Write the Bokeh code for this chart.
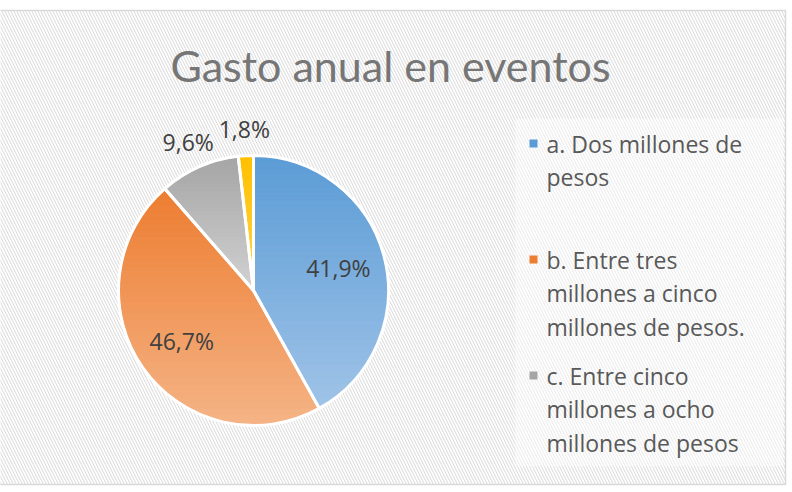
import textwrap
import numpy as np
from bokeh.plotting import figure
from bokeh.models import Range1d
from bokeh.core.properties import value
from bokeh.embed import file_html
from bokeh.resources import INLINE

# ---- data ----
title = "Gasto anual en eventos"
categories = [
    "a. Dos millones de pesos",
    "b. Entre tres millones a cinco millones de pesos.",
    "c. Entre cinco millones a ocho millones de pesos",
    "d. Más de ocho millones de pesos",
]
shares = [41.9, 46.7, 9.6, 1.8]
labels = ["41,9%", "46,7%", "9,6%", "1,8%"]
colors_top = ["#5B9BD5", "#ED7D31", "#A5A5A5", "#FFC000"]
colors_bottom = ["#A0C4E8", "#F5B486", "#D2D2D2", "#FFD54F"]

W, H = 792, 492
FONT = "Open Sans"
TFONT = "Lato"

p = figure(width=W, height=H, output_backend="svg", toolbar_location=None,
           x_range=Range1d(0, W), y_range=Range1d(0, H), min_border=0)
p.axis.visible = False
p.grid.visible = False
p.outline_line_color = None
p.background_fill_color = "white"
p.border_fill_color = "white"

# chart area with hatched background
top, bottom, left, right = H - 10, H - 484, -2, 785
p.quad(left=[left], right=[right], top=[top], bottom=[bottom],
       fill_color="white", line_color="#D9D9D9", line_width=1.5,
       hatch_pattern="\\", hatch_color="#DEDEDE", hatch_scale=6, hatch_weight=1.1)

# legend backdrop
p.quad(left=[515], right=[783], top=[H - 118], bottom=[H - 466],
       fill_color="white", fill_alpha=0.45, line_color=None)

# ---- pie ----
cx, cy, R = 253, H - 290, 135
fr = np.array(shares) / sum(shares)
cum = np.concatenate([[0], np.cumsum(fr)])


def hex2rgb(h):
    h = h.lstrip("#")
    return np.array([int(h[i:i + 2], 16) for i in (0, 2, 4)], float)


def rgb2hex(c):
    return "#%02x%02x%02x" % tuple(int(round(v)) for v in c)


def clip_y(poly, y0, y1):
    def clip(pts, keep, inter):
        out = []
        n = len(pts)
        for i in range(n):
            a, b = pts[i], pts[(i + 1) % n]
            ka, kb = keep(a), keep(b)
            if ka:
                out.append(a)
            if ka != kb:
                out.append(inter(a, b))
        return out

    def ix(a, b, yv):
        t = (yv - a[1]) / (b[1] - a[1])
        return (a[0] + t * (b[0] - a[0]), yv)

    pts = clip(poly, lambda q: q[1] >= y0, lambda a, b: ix(a, b, y0))
    if not pts:
        return []
    pts = clip(pts, lambda q: q[1] <= y1, lambda a, b: ix(a, b, y1))
    return pts


xs_all, ys_all, cols_all = [], [], []
NB = 40
for i in range(len(shares)):
    a0 = np.pi / 2 - cum[i] * 2 * np.pi
    a1 = np.pi / 2 - cum[i + 1] * 2 * np.pi
    ang = np.linspace(a0, a1, 120)
    poly = [(cx, cy)] + [(cx + R * np.cos(t), cy + R * np.sin(t)) for t in ang]
    ymin = min(q[1] for q in poly)
    ymax = max(q[1] for q in poly)
    ct, cb = hex2rgb(colors_top[i]), hex2rgb(colors_bottom[i])
    edges = np.linspace(ymin, ymax, NB + 1)
    for k in range(NB):
        part = clip_y(poly, edges[k] - 0.3, edges[k + 1] + 0.3)
        if len(part) < 3:
            continue
        t = 1 - (k + 0.5) / NB  # 0 at top, 1 at bottom
        col = rgb2hex(ct + (cb - ct) * t)
        xs_all.append([q[0] for q in part])
        ys_all.append([q[1] for q in part])
        cols_all.append(col)

p.patches(xs_all, ys_all, fill_color=cols_all, line_color=cols_all, line_width=0.6)

# white separators
starts = [np.pi / 2 - cum[i + 1] * 2 * np.pi for i in range(len(shares))]
ends = [np.pi / 2 - cum[i] * 2 * np.pi for i in range(len(shares))]
p.wedge(x=[cx] * len(shares), y=[cy] * len(shares), radius=R,
        start_angle=starts, end_angle=ends, fill_color=None,
        line_color="white", line_width=3)

# data labels
lx, ly = [], []
for i in range(len(shares)):
    mid = np.pi / 2 - (cum[i] + cum[i + 1]) / 2 * 2 * np.pi
    rr = R * (0.65 if fr[i] > 0.15 else 1.2)
    lx.append(cx + rr * np.cos(mid))
    ly.append(cy + rr * np.sin(mid))
p.text(x=lx, y=ly, text=labels, text_font=value(FONT), text_font_size="23px",
       text_color="#404040", text_align="center", text_baseline="middle")

# title
p.text(x=[390], y=[H - 65], text=[title], text_font=value(TFONT),
       text_font_size="43px", text_color="#767676", text_align="center",
       text_baseline="middle")

# legend (manual, wrapped, clipped to chart area)
leg_x, leg_y0, pitch, line_h = 533, H - 143, 116, 33.5
mx, my, mc, tx, ty, tt = [], [], [], [], [], []
for i, cat in enumerate(categories):
    y = leg_y0 - i * pitch
    if y < bottom + 20:
        continue
    mx.append(leg_x)
    my.append(y)
    mc.append(colors_top[i])
    for j, line in enumerate(textwrap.wrap(cat, 18)):
        tx.append(leg_x + 13)
        ty.append(y - j * line_h)
        tt.append(line)
p.scatter(x=mx, y=my, marker="square", size=8, fill_color=mc, line_color=None)
p.text(x=tx, y=ty, text=tt, text_font=value(FONT), text_font_size="23px",
       text_color="#595959", text_align="left", text_baseline="middle")

open("out.html", "w").write(file_html(p, INLINE))
